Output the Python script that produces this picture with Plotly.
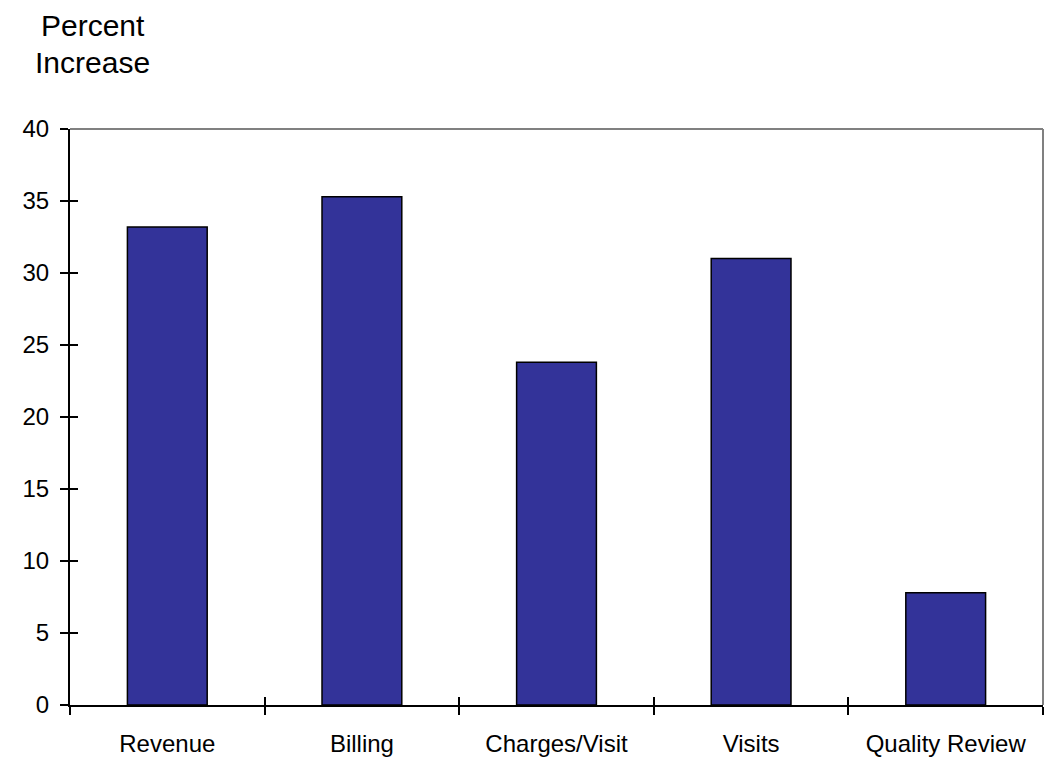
import plotly.graph_objects as go

categories = ["Revenue", "Billing", "Charges/Visit", "Visits", "Quality Review"]
values = [33.2, 35.3, 23.8, 31.0, 7.8]
y_ticks = [0, 5, 10, 15, 20, 25, 30, 35, 40]
title_lines = ["Percent", "Increase"]

FONT = "Liberation Sans, Arial, sans-serif"
BAR_COLOR = "#333399"

fig = go.Figure()
fig.add_trace(go.Bar(
    x=categories, y=values,
    marker=dict(color=BAR_COLOR, line=dict(color="black", width=1.5)),
    xaxis="x", yaxis="y", hoverinfo="x+y",
))
# invisible companion trace so overlay axes (inside tick halves) render
fig.add_trace(go.Bar(
    x=categories, y=values, opacity=0, hoverinfo="skip",
    xaxis="x2", yaxis="y2", showlegend=False,
))

common_x = dict(type="category", tickson="boundaries", range=[-0.5, 4.5])
fig.update_layout(
    width=1045, height=772,
    margin=dict(l=70, r=2, t=129, b=67),
    plot_bgcolor="white", paper_bgcolor="white",
    showlegend=False, bargap=0.59, barmode="overlay",
    font=dict(family=FONT, color="black", size=24),
    xaxis=dict(**common_x, showline=True, linecolor="black", linewidth=2,
               ticks="outside", ticklen=8, tickwidth=2, tickcolor="black",
               showgrid=False, zeroline=False, ticklabelstandoff=16,
               tickfont=dict(size=24, family=FONT, color="black")),
    xaxis2=dict(**common_x, overlaying="x", anchor="y2", side="bottom",
                showline=False, ticks="inside", ticklen=8, tickwidth=2,
                tickcolor="black", showticklabels=False, showgrid=False,
                zeroline=False),
    yaxis=dict(range=[0, 40], tickvals=y_ticks, showline=True, linecolor="black",
               linewidth=2, ticks="outside", ticklen=8, tickwidth=2,
               tickcolor="black", showgrid=False, zeroline=False,
               ticklabelstandoff=6,
               tickfont=dict(size=24, family=FONT, color="black")),
    yaxis2=dict(range=[0, 40], tickvals=y_ticks, overlaying="y", anchor="x2",
                side="left", showline=False, ticks="inside", ticklen=8,
                tickwidth=2, tickcolor="black", showticklabels=False,
                showgrid=False, zeroline=False),
    shapes=[
        dict(type="line", xref="paper", yref="paper", x0=0, x1=1, y0=1, y1=1,
             line=dict(color="#808080", width=2)),
        dict(type="line", xref="paper", yref="paper", x0=1, x1=1, y0=0, y1=1,
             line=dict(color="#808080", width=2)),
    ],
    annotations=[
        dict(text=title_lines[0], xref="paper", yref="paper", x=0.0236, y=1.179,
             xanchor="center", yanchor="middle", showarrow=False,
             font=dict(size=30, family=FONT, color="black")),
        dict(text=title_lines[1], xref="paper", yref="paper", x=0.0236, y=1.116,
             xanchor="center", yanchor="middle", showarrow=False,
             font=dict(size=30, family=FONT, color="black")),
    ],
)

fig.write_html("out.html")
